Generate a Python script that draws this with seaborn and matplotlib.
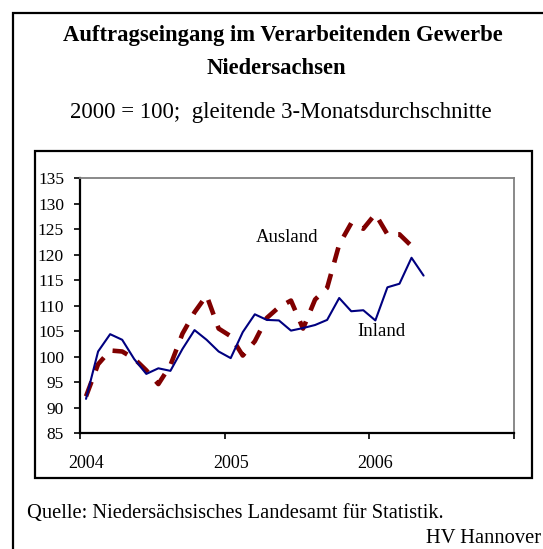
import matplotlib
matplotlib.use("Agg")
import matplotlib.pyplot as plt
import seaborn as sns
import numpy as np
import pandas as pd
from matplotlib.patches import Rectangle

sns.set_theme(style="white")
plt.rcParams['font.family'] = ['Liberation Serif', 'DejaVu Serif']

# ---- data (monthly, Jan 2004 = month 0) ----
inland = [91.7, 101.0, 104.4, 103.3, 99.5, 96.6, 97.7, 97.2, 101.5, 105.2,
          103.3, 101.0, 99.7, 104.8, 108.3, 107.2, 107.1, 105.1, 105.6, 106.2,
          107.2, 111.5, 108.9, 109.1, 107.1, 113.6, 114.3, 119.4, 115.9]
ausland = [92.2, 98.5, 101.2, 101.0, 99.6, 97.3, 94.6, 98.3, 104.5, 108.7,
           112.0, 105.5, 104.0, 100.2, 103.0, 107.6, 109.7, 111.0, 105.5, 111.2,
           113.5, 122.0, 126.2, 125.1, 128.0, 124.0, 124.0, 121.7]
year_labels = ["2004", "2005", "2006"]
y_ticks = [85, 90, 95, 100, 105, 110, 115, 120, 125, 130, 135]

df_in = pd.DataFrame({"month": np.arange(len(inland)), "value": inland})
df_au = pd.DataFrame({"month": np.arange(len(ausland)), "value": ausland})

W, H = 543, 549
fig = plt.figure(figsize=(W / 100, H / 100), dpi=100)
fig.patch.set_facecolor("white")

def fx(px):
    return px / W

def fy(py):
    return 1 - py / H

ax = fig.add_axes([fx(80), fy(433), fx(514) - fx(80), fy(178.3) - fy(433)])
ax.set_facecolor("white")

sns.lineplot(data=df_au, x="month", y="value", ax=ax, color="#800000",
             linewidth=3.3, estimator=None)
ax.lines[-1].set_dashes([3.4, 2.6])
ax.lines[-1].set_dash_capstyle("butt")
sns.lineplot(data=df_in, x="month", y="value", ax=ax, color="#000080",
             linewidth=1.5, estimator=None)

ax.set_xlim(-0.5, 35.5)
ax.set_ylim(85, 135)
ax.set_yticks(y_ticks)
ax.set_yticklabels([str(t) for t in y_ticks])
ax.set_xticks([-0.5, 11.5, 23.5, 35.5])
ax.set_xticklabels([])
ax.set_xticks([0, 12, 24], minor=True)
ax.set_xticklabels(year_labels, minor=True)
ax.tick_params(axis="x", which="major", direction="out", length=4.5, width=1.2,
               color="black", bottom=True)
ax.tick_params(axis="x", which="minor", length=0, pad=16, labelsize=13,
               labelcolor="black", bottom=True)
ax.tick_params(axis="y", direction="out", length=4.5, width=1.2, color="black",
               pad=7, labelsize=12.5, labelcolor="black", left=True)
ax.set_xlabel("")
ax.set_ylabel("")
ax.grid(False)
for s in ["left", "bottom"]:
    ax.spines[s].set_color("black")
    ax.spines[s].set_linewidth(1.6)
for s in ["top", "right"]:
    ax.spines[s].set_color("#808080")
    ax.spines[s].set_linewidth(1.3)

fig.text(fx(287), fy(237), "Ausland", ha="center", va="center", fontsize=13.5, color="black")
fig.text(fx(381), fy(331), "Inland", ha="center", va="center", fontsize=13.5, color="black")

# titles
fig.text(fx(283), fy(41), "Auftragseingang im Verarbeitenden Gewerbe", ha="center",
         va="baseline", fontsize=16.3, fontweight="bold", color="black")
fig.text(fx(276), fy(74), "Niedersachsen", ha="center", va="baseline", fontsize=16.3,
         fontweight="bold", color="black")
fig.text(fx(281), fy(118), "2000 = 100;  gleitende 3-Monatsdurchschnitte", ha="center",
         va="baseline", fontsize=16.4, color="black")
fig.text(fx(26.7), fy(518), "Quelle: Niedersächsisches Landesamt für Statistik.",
         ha="left", va="baseline", fontsize=14.8, color="black")
fig.text(fx(541), fy(543), "HV Hannover", ha="right", va="baseline", fontsize=14.8,
         color="black")

# frames
fig.patches.append(Rectangle((fx(13), fy(600)), fx(600), fy(13) - fy(600),
                             transform=fig.transFigure, fill=False,
                             edgecolor="black", linewidth=1.6, zorder=0))
fig.patches.append(Rectangle((fx(34.5), fy(478)), fx(531.5) - fx(34.5), fy(150.5) - fy(478),
                             transform=fig.transFigure, fill=False,
                             edgecolor="black", linewidth=1.6, zorder=0))

fig.savefig("out.png", dpi=100)
